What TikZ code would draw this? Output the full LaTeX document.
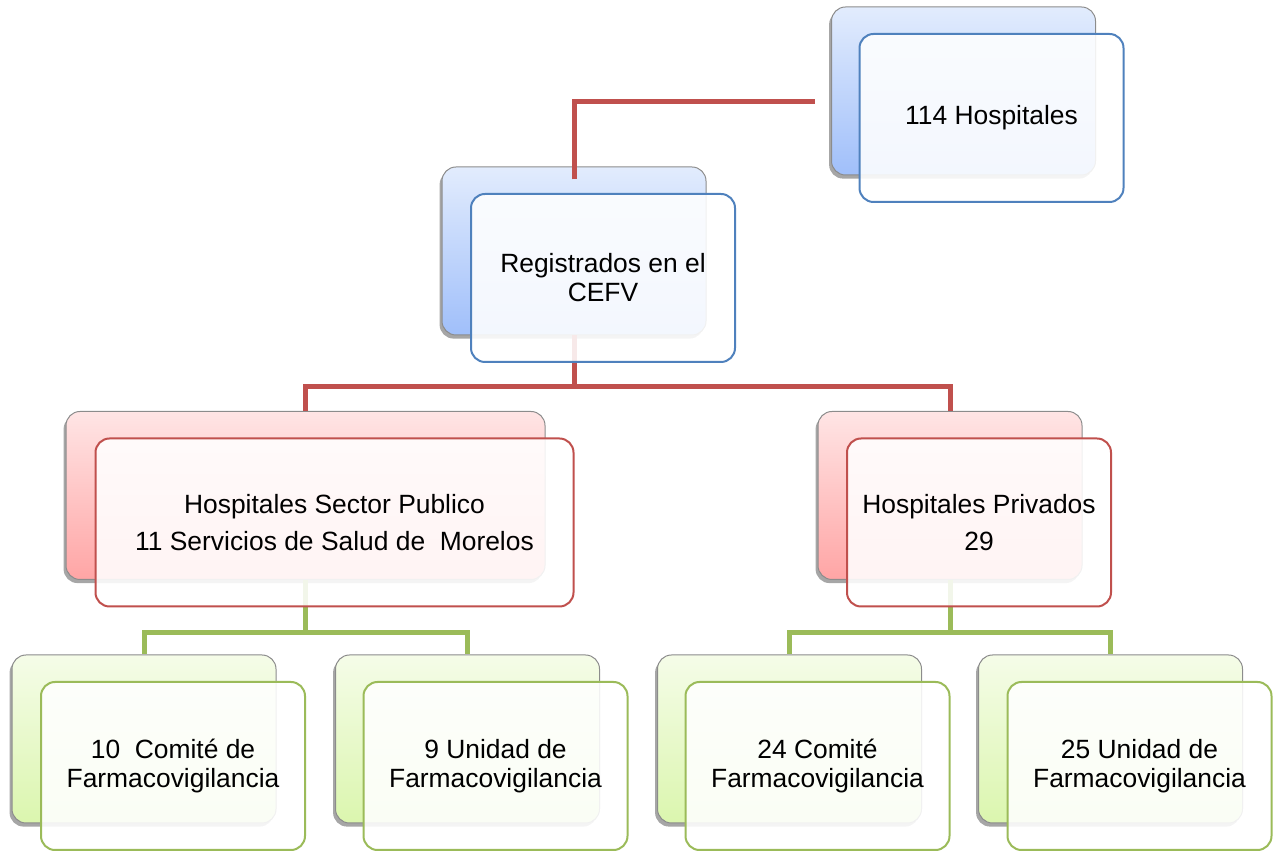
\documentclass[tikz,border=0pt]{standalone}
\usepackage{fontspec}
\setmainfont{Liberation Sans}
\usetikzlibrary{positioning, shadows}

\definecolor{linkred}{HTML}{C0504D}
\definecolor{linkgreen}{HTML}{9BBB59}
\definecolor{edgeblue}{HTML}{4F81BD}
\definecolor{bluetop}{HTML}{E2ECFD}
\definecolor{bluebot}{HTML}{A0BFFA}
\definecolor{redtop}{HTML}{FFE5E5}
\definecolor{redbot}{HTML}{FFA5A5}
\definecolor{greentop}{HTML}{F5FCE8}
\definecolor{greenbot}{HTML}{DBF6AE}

\begin{document}
\begin{tikzpicture}[x=0.5pt, y=-0.5pt,
    backcard/.style={rounded corners=7pt, draw=black!45, line width=0.5pt,
        minimum width=132pt, minimum height=84pt,
        drop shadow={shadow xshift=-1.2pt, shadow yshift=-1.8pt, opacity=0.35, fill=black}},
    bluecard/.style={backcard, top color=bluetop, bottom color=bluebot},
    redcard/.style={backcard, top color=redtop, bottom color=redbot},
    greencard/.style={backcard, top color=greentop, bottom color=greenbot},
    frontcard/.style={rounded corners=7pt, draw=#1, line width=1pt,
        fill=white, fill opacity=0.88, text opacity=1,
        minimum width=132pt, minimum height=84pt, align=center,
        font=\fontsize{13.2}{14.5}\selectfont},
    redlink/.style={draw=linkred, line width=2.5pt},
    greenlink/.style={draw=linkgreen, line width=2.5pt}]

    \useasboundingbox (0,0) rectangle (1275,854);

    % back cards
    \node[bluecard] (totalback) at (963.5,91) {};
    \node[bluecard] (cefvback) at (574,251) {};
    \node[redcard, minimum width=239.5pt] (pubback) at (305.5,495.5) {};
    \node[redcard] (privback) at (950,495.5) {};
    \node[greencard] (pubcomback) at (144,739) {};
    \node[greencard] (pubuniback) at (467.5,739) {};
    \node[greencard] (privcomback) at (789.5,739) {};
    \node[greencard] (privuniback) at (1110.5,739) {};

    % connectors
    \coordinate (totalend) at (815,102);
    \draw[redlink] ([yshift=-6.5pt]cefvback.north) |- (totalend);
    \draw[redlink] (cefvback.south) -- ++(0,51) -| (pubback.north);
    \draw[redlink] (cefvback.south) -- ++(0,51) -| (privback.north);
    \draw[greenlink] (pubback.south) -- ++(0,53) -| (pubcomback.north);
    \draw[greenlink] (pubback.south) -- ++(0,53) -| (pubuniback.north);
    \draw[greenlink] (privback.south) -- ++(0,53) -| (privcomback.north);
    \draw[greenlink] (privback.south) -- ++(0,53) -| (privuniback.north);

    % front cards
    \node[frontcard=edgeblue] (total) at ([shift={(28,27)}]totalback) {114 Hospitales};
    \node[frontcard=edgeblue] (cefv) at ([shift={(29,27)}]cefvback) {Registrados en el\\CEFV};
    \node[frontcard=linkred, minimum width=239pt, font=\fontsize{13.2}{18.5}\selectfont] (pub)
        at ([shift={(29,27)}]pubback) {Hospitales Sector Publico\\11 Servicios de Salud de~ Morelos};
    \node[frontcard=linkred, font=\fontsize{13.2}{18.5}\selectfont] (priv)
        at ([shift={(29,27)}]privback) {Hospitales Privados\\29};
    \node[frontcard=linkgreen] (pubcom) at ([shift={(29,27)}]pubcomback) {10~ Comité de\\Farmacovigilancia};
    \node[frontcard=linkgreen] (pubuni) at ([shift={(28,27)}]pubuniback) {9 Unidad de\\Farmacovigilancia};
    \node[frontcard=linkgreen] (privcom) at ([shift={(28,27)}]privcomback) {24 Comité\\Farmacovigilancia};
    \node[frontcard=linkgreen] (privuni) at ([shift={(29,27)}]privuniback) {25 Unidad de\\Farmacovigilancia};
\end{tikzpicture}
\end{document}
